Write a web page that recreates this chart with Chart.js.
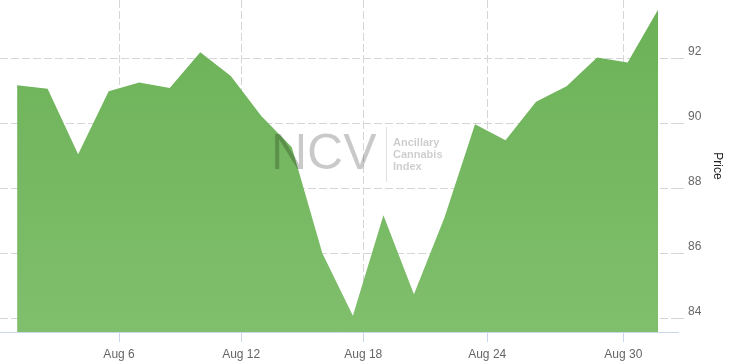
<!DOCTYPE html>
<html>
<head>
<meta charset="utf-8">
<title>Ancillary Cannabis Index - August</title>
<script src="https://cdn.jsdelivr.net/npm/chart.js@4/dist/chart.umd.min.js"></script>
<style>
  html, body { margin: 0; padding: 0; background: #fff; }
  canvas { display: block; }
</style>
</head>
<body>
<canvas id="precio" width="730" height="364"></canvas>
<script>
// Datos: un punto por sesión de agosto
var precios = [91.17, 91.06, 89.05, 90.98, 91.25, 91.08, 92.18, 91.45, 90.22, 89.26, 86.0,
               84.08, 87.17, 84.74, 87.1, 89.97, 89.48, 90.66, 91.14, 92.02, 91.87, 93.5];

// Etiquetas del eje X y su posición (en índice de sesión)
var etiquetasX = ['Aug 6', 'Aug 12', 'Aug 18', 'Aug 24', 'Aug 30'];
var posicionesX = [3.34, 7.34, 11.34, 15.4, 19.86];

// Marcas del eje Y
var marcasY = [84, 86, 88, 90, 92];

var fuente = '"Liberation Sans", Arial, sans-serif';

// Marca de agua "NCV | Ancillary Cannabis Index" encima del área
var marcaAgua = {
    id: 'marcaAgua',
    afterDatasetsDraw: function (chart) {
        var ctx = chart.ctx;
        ctx.save();
        ctx.fillStyle = 'rgba(0,0,0,0.21)';
        ctx.font = '50px ' + fuente;
        ctx.textBaseline = 'alphabetic';
        ctx.fillText('NCV', 271, 169);
        ctx.fillStyle = 'rgba(0,0,0,0.12)';
        ctx.fillRect(386, 127, 1, 55);
        ctx.fillStyle = 'rgba(0,0,0,0.2)';
        ctx.font = 'bold 11px ' + fuente;
        ctx.fillText('Ancillary', 393, 146);
        ctx.fillText('Cannabis', 393, 158);
        ctx.fillText('Index', 393, 170);
        ctx.restore();
    }
};

new Chart(document.getElementById('precio').getContext('2d'), {
    type: 'line',
    data: {
        datasets: [{
            data: precios.map(function (p, i) { return { x: i, y: p }; }),
            fill: 'start',
            backgroundColor: function (context) {
                var area = context.chart.chartArea;
                if (!area) {
                    return '#74b862';
                }
                var g = context.chart.ctx.createLinearGradient(0, area.top, 0, area.bottom);
                g.addColorStop(0, '#6bb157');
                g.addColorStop(1, '#80bf6c');
                return g;
            },
            borderWidth: 0,
            pointRadius: 0,
            tension: 0
        }]
    },
    options: {
        responsive: false,
        animation: false,
        layout: { padding: 0 },
        plugins: {
            legend: { display: false },
            tooltip: { enabled: false }
        },
        scales: {
            x: {
                type: 'linear',
                min: -0.56,
                max: 21.65,
                afterBuildTicks: function (scale) {
                    scale.ticks = posicionesX.map(function (v) { return { value: v }; });
                },
                afterFit: function (scale) {
                    scale.height = 32;
                    scale.paddingLeft = 0;
                    scale.paddingRight = 0;
                },
                ticks: {
                    autoSkip: false,
                    maxRotation: 0,
                    color: '#666',
                    padding: 5,
                    font: { family: fuente, size: 12 },
                    callback: function (v, i) { return etiquetasX[i]; }
                },
                grid: {
                    color: '#d6d6d6',
                    tickColor: '#ccd6eb',
                    tickLength: 10,
                    tickBorderDash: []
                },
                border: { display: true, color: '#ccd6eb', width: 1, dash: [8, 3] }
            },
            y: {
                position: 'right',
                min: 83.58,
                max: 93.79,
                afterBuildTicks: function (scale) {
                    scale.ticks = marcasY.map(function (v) { return { value: v }; });
                },
                afterFit: function (scale) {
                    scale.width = 52;
                    scale.paddingTop = 0;
                    scale.paddingBottom = 0;
                },
                ticks: {
                    color: '#666',
                    padding: 4,
                    labelOffset: -7,
                    font: { family: fuente, size: 12 }
                },
                grid: {
                    color: '#d6d6d6',
                    tickLength: 6,
                    tickBorderDash: [8, 3]
                },
                border: { display: false, dash: [8, 3] },
                title: {
                    display: true,
                    text: 'Price',
                    color: '#222',
                    padding: { top: 5, bottom: 4 },
                    font: { family: fuente, size: 12 }
                }
            }
        }
    },
    plugins: [marcaAgua]
});
</script>
</body>
</html>
